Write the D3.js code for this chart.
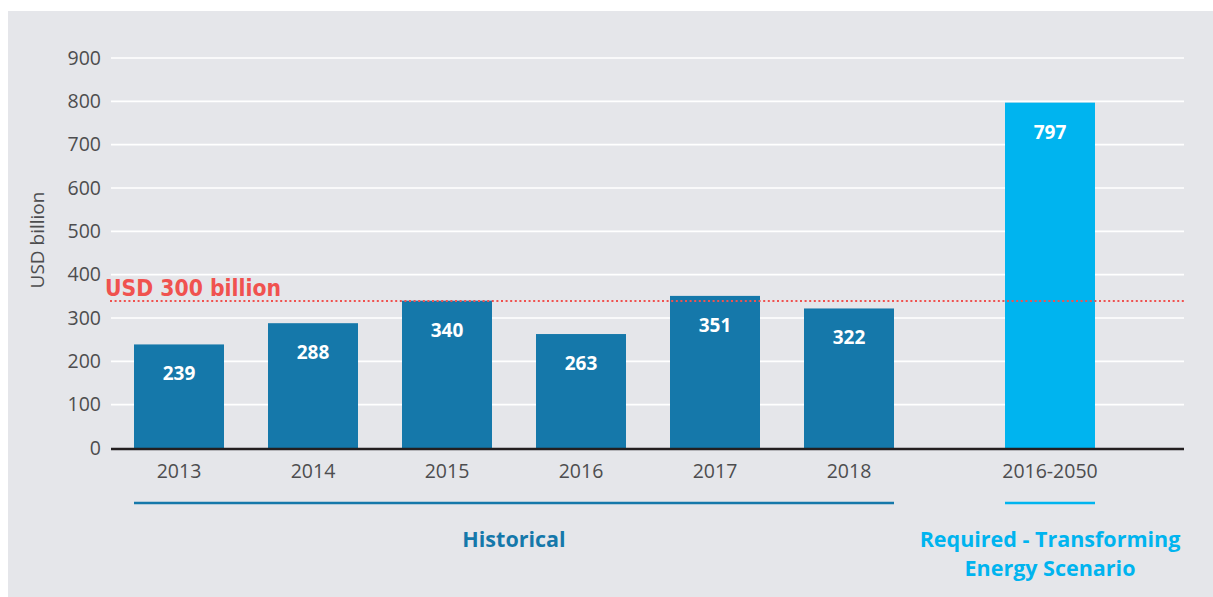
<!DOCTYPE html>
<html>
<head>
<meta charset="utf-8">
<script src="https://cdn.jsdelivr.net/npm/d3@7"></script>
<style>
  body { margin: 0; background: #fff; }
  svg { display: block; }
  text { font-family: "Open Sans", "Noto Sans", sans-serif; }
</style>
</head>
<body>
<svg id="chart" width="1213" height="597"></svg>
<script>
// data
var categories = ['2013', '2014', '2015', '2016', '2017', '2018', '2016-2050'];
var slots = [0, 1, 2, 3, 4, 5, 6.5];       // position index, gap before the scenario bar
var values = [239, 288, 340, 263, 351, 322, 797];
var groups = ['hist', 'hist', 'hist', 'hist', 'hist', 'hist', 'req'];
var yTicks = [0, 100, 200, 300, 400, 500, 600, 700, 800, 900];
var refValue = 339;   // dotted "USD 300 billion" line
var refLabel = 'USD 300 billion';

var colors = { hist: '#1578aa', req: '#00b4ef' };

var svg = d3.select('#chart');

// panel background
svg.append('rect')
  .attr('x', 8).attr('y', 11)
  .attr('width', 1205).attr('height', 586)
  .attr('fill', '#e5e6ea');

var x = d3.scaleLinear().domain([0, 6.5]).range([179, 1050]);
var y = d3.scaleLinear().domain([0, 900]).range([448, 58]);
var barW = 90;

// grid
svg.append('g')
  .selectAll('line')
  .data(yTicks.filter(function(t) { return t > 0; }))
  .enter().append('line')
    .attr('x1', 111).attr('x2', 1184)
    .attr('y1', function(d) { return y(d); })
    .attr('y2', function(d) { return y(d); })
    .attr('stroke', '#ffffff')
    .attr('stroke-width', 1.6);

// y axis labels
var yAxis = d3.axisLeft(y).tickValues(yTicks).tickSize(0).tickPadding(0);
var ya = svg.append('g').attr('transform', 'translate(101,0)').call(yAxis);
ya.select('.domain').remove();
ya.selectAll('text')
  .attr('fill', '#4d4d4f')
  .style('font-size', '19.5px')
  .style('font-family', '"Open Sans", sans-serif');

svg.append('text')
  .attr('transform', 'translate(44,240) rotate(-90)')
  .attr('text-anchor', 'middle')
  .attr('fill', '#4d4d4f')
  .style('font-size', '19px')
  .text('USD billion');

// bars
var rows = categories.map(function(c, i) {
  return { cat: c, slot: slots[i], v: values[i], g: groups[i] };
});

svg.append('g').selectAll('rect')
  .data(rows)
  .enter().append('rect')
    .attr('x', function(d) { return x(d.slot) - barW / 2; })
    .attr('y', function(d) { return y(d.v); })
    .attr('width', barW)
    .attr('height', function(d) { return y(0) - y(d.v); })
    .attr('fill', function(d) { return colors[d.g]; });

svg.append('g').selectAll('text')
  .data(rows)
  .enter().append('text')
    .attr('x', function(d) { return x(d.slot); })
    .attr('y', function(d) { return y(d.v) + 36; })
    .attr('text-anchor', 'middle')
    .attr('fill', '#ffffff')
    .style('font-size', '19px')
    .style('font-weight', 'bold')
    .text(function(d) { return d.v; });

// baseline
svg.append('line')
  .attr('x1', 111).attr('x2', 1184)
  .attr('y1', y(0) + 1).attr('y2', y(0) + 1)
  .attr('stroke', '#231f20')
  .attr('stroke-width', 2.5);

// x labels
svg.append('g').selectAll('text')
  .data(rows)
  .enter().append('text')
    .attr('x', function(d) { return x(d.slot); })
    .attr('y', 478)
    .attr('text-anchor', 'middle')
    .attr('fill', '#4d4d4f')
    .style('font-size', '19.5px')
    .text(function(d) { return d.cat; });

// reference line
svg.append('line')
  .attr('x1', 110).attr('x2', 1184)
  .attr('y1', y(refValue)).attr('y2', y(refValue))
  .attr('stroke', '#f0524f')
  .attr('stroke-width', 2)
  .attr('stroke-dasharray', '2,2.6');

svg.append('text')
  .attr('x', 105).attr('y', 296)
  .attr('fill', '#f0524f')
  .attr('textLength', 176)
  .attr('lengthAdjust', 'spacingAndGlyphs')
  .style('font-size', '23px')
  .style('font-weight', 'bold')
  .style('font-family', '"DejaVu Sans Condensed", "Roboto", sans-serif')
  .text(refLabel);

// group brackets
var histRows = rows.filter(function(d) { return d.g === 'hist'; });
var reqRows = rows.filter(function(d) { return d.g === 'req'; });
var brackets = [
  { from: histRows[0].slot, to: histRows[histRows.length - 1].slot, g: 'hist', label: ['Historical'] },
  { from: reqRows[0].slot, to: reqRows[reqRows.length - 1].slot, g: 'req', label: ['Required - Transforming', 'Energy Scenario'] }
];

svg.append('g').selectAll('line')
  .data(brackets)
  .enter().append('line')
    .attr('x1', function(d) { return x(d.from) - barW / 2; })
    .attr('x2', function(d) { return x(d.to) + barW / 2; })
    .attr('y1', 503).attr('y2', 503)
    .attr('stroke', function(d) { return colors[d.g]; })
    .attr('stroke-width', 2.5);

brackets.forEach(function(b) {
  var cx = (x(b.from) + x(b.to)) / 2;
  var t = svg.append('text')
    .attr('x', cx).attr('y', 547)
    .attr('text-anchor', 'middle')
    .attr('fill', colors[b.g])
    .style('font-size', '21.5px')
    .style('font-weight', 'bold');
  b.label.forEach(function(line, i) {
    t.append('tspan').attr('x', cx).attr('dy', i === 0 ? 0 : 29).text(line);
  });
});
</script>
</body>
</html>
